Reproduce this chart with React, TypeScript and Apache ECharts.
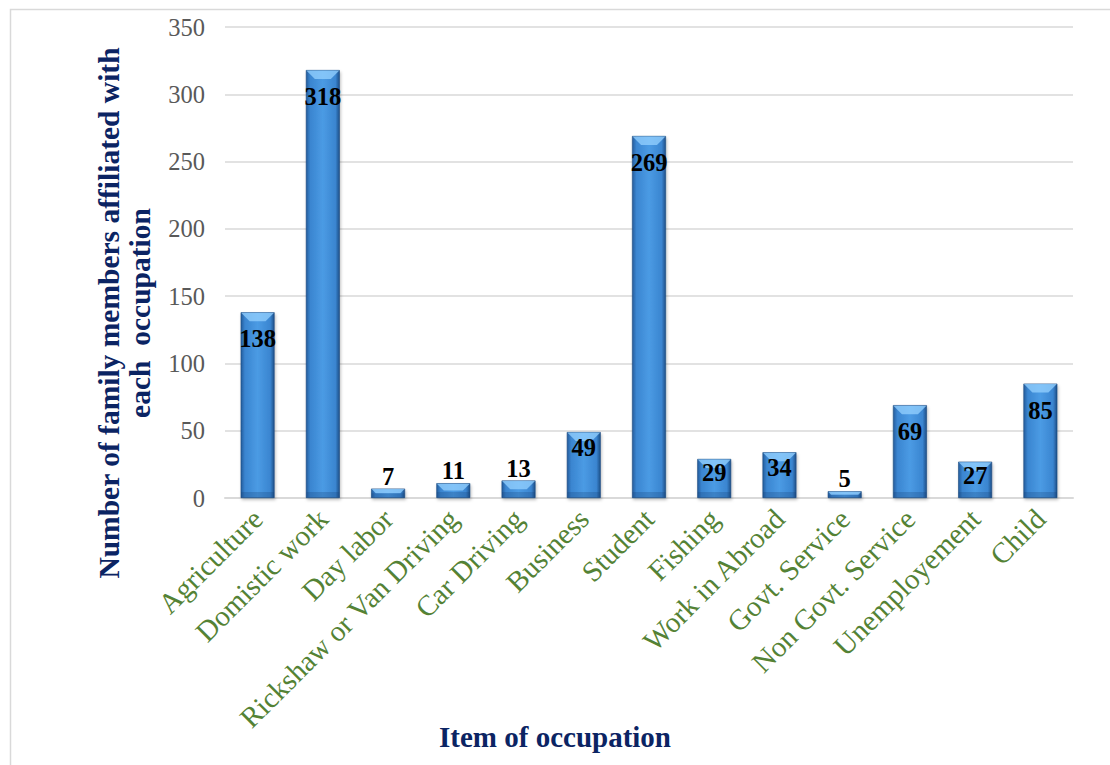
import React, { useEffect, useRef } from "react";
import * as echarts from "echarts";

const categories = [
  "Agriculture",
  "Domistic work",
  "Day labor",
  "Rickshaw or Van Driving",
  "Car Driving",
  "Business",
  "Student",
  "Fishing",
  "Work in Abroad",
  "Govt. Service",
  "Non Govt. Service",
  "Unemployement",
  "Child",
];
const members = [138, 318, 7, 11, 13, 49, 269, 29, 34, 5, 69, 27, 85];
const yTicks = { min: 0, max: 350, interval: 50 };

const SERIF = "'Liberation Serif', 'Times New Roman', serif";
const NAVY = "#0b2463";
const BAR_WIDTH = "52%";

export default function App() {
  const ref = useRef<HTMLDivElement>(null);

  useEffect(() => {
    if (!ref.current) return;
    const chart = echarts.init(ref.current, undefined, { renderer: "svg" });

    const barFill = new echarts.graphic.LinearGradient(0, 0, 1, 0, [
      { offset: 0, color: "#245c9c" },
      { offset: 0.12, color: "#3a85d0" },
      { offset: 0.5, color: "#4b9be4" },
      { offset: 0.88, color: "#3a85d0" },
      { offset: 1, color: "#1e4f88" },
    ]);

    const labelFor = (v: number) => {
      if (v < 20) return { position: "top", distance: 0 };
      if (v < 30) return { position: "insideTop", distance: 1 };
      if (v < 60) return { position: "insideTop", distance: 3 };
      return { position: "insideTop", distance: 14 };
    };

    chart.setOption({
      animation: false,
      backgroundColor: "#ffffff",
      grid: { left: 225, right: 37, top: 27, bottom: 267, containLabel: false },
      xAxis: {
        type: "category",
        data: categories,
        axisLine: { show: true, lineStyle: { color: "#d9d9d9", width: 2 } },
        axisTick: { show: false },
        axisLabel: {
          rotate: 45,
          interval: 0,
          margin: 16,
          color: "#548235",
          fontFamily: SERIF,
          fontSize: 29,
        },
      },
      yAxis: {
        type: "value",
        min: yTicks.min,
        max: yTicks.max,
        interval: yTicks.interval,
        axisLine: { show: false },
        axisTick: { show: false },
        axisLabel: {
          color: "#595959",
          fontFamily: SERIF,
          fontSize: 24.5,
          margin: 20,
        },
        splitLine: { lineStyle: { color: "#d9d9d9", width: 1.5 } },
      },
      series: [
        {
          type: "bar",
          barWidth: BAR_WIDTH,
          data: members,
          itemStyle: {
            color: barFill,
            borderColor: "#1b4a80",
            borderWidth: 0.6,
            shadowColor: "rgba(0,0,0,0.25)",
            shadowBlur: 3,
            shadowOffsetX: 1,
            shadowOffsetY: 2,
          },
          z: 2,
        },
        {
          // bevelled highlight across the top of each bar, shaded foot
          type: "custom",
          silent: true,
          z: 3,
          data: members.map((v, i) => [i, v]),
          renderItem: (params: any, api: any) => {
            const top = api.coord([api.value(0), api.value(1)]);
            const base = api.coord([api.value(0), 0]);
            const w = api.size([1, 0])[0] * 0.52;
            const h = Math.min(9, (base[1] - top[1]) * 0.5);
            const x0 = top[0] - w / 2;
            const x1 = top[0] + w / 2;
            return {
              type: "group",
              children: [
                {
                  type: "polygon",
                  shape: {
                    points: [
                      [x0 + 0.5, top[1] + 0.5],
                      [x1 - 0.5, top[1] + 0.5],
                      [x1 - h, top[1] + h],
                      [x0 + h, top[1] + h],
                    ],
                  },
                  style: { fill: "rgba(150,210,255,0.75)" },
                },
                {
                  type: "rect",
                  shape: { x: x0 + 0.5, y: base[1] - Math.min(6, h), width: w - 1, height: Math.min(6, h) },
                  style: { fill: "rgba(20,60,110,0.25)" },
                },
              ],
            };
          },
        },
        {
          // value labels drawn on top of everything
          type: "bar",
          barWidth: BAR_WIDTH,
          barGap: "-100%",
          silent: true,
          z: 4,
          data: members.map((v) => ({ value: v, label: labelFor(v) })),
          itemStyle: { color: "rgba(0,0,0,0)" },
          label: {
            show: true,
            color: "#000000",
            fontFamily: SERIF,
            fontWeight: "bold",
            fontSize: 24.5,
          },
        },
      ],
      graphic: [
        {
          type: "rect",
          silent: true,
          shape: { x: 10.5, y: 9.5, width: 1120, height: 800 },
          style: { fill: "none", stroke: "#d9d9d9", lineWidth: 1.5 },
        },
        {
          type: "text",
          x: 124,
          y: 313,
          rotation: Math.PI / 2,
          style: {
            text: "Number of family members affiliated with\neach  occupation",
            fill: NAVY,
            font: `bold 29.5px ${SERIF}`,
            lineHeight: 31,
            align: "center",
            verticalAlign: "middle",
          },
        },
        {
          type: "text",
          left: "center",
          top: 722,
          style: {
            text: "Item of occupation",
            fill: NAVY,
            font: `bold 29px ${SERIF}`,
          },
        },
      ],
    });

    return () => chart.dispose();
  }, []);

  return (
    <div
      ref={ref}
      style={{ position: "absolute", left: 0, top: 0, width: 1110, height: 765 }}
    />
  );
}
